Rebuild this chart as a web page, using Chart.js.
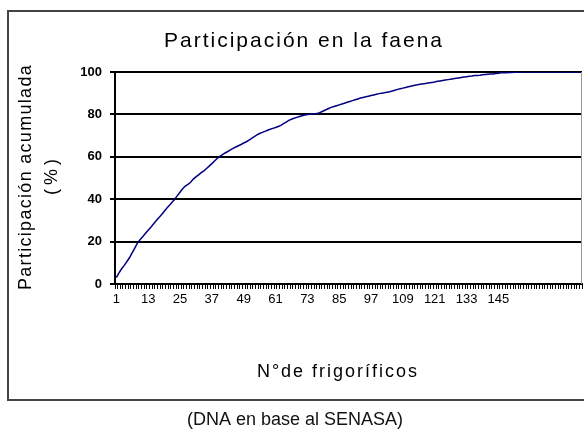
<!DOCTYPE html>
<html>
<head>
<meta charset="utf-8">
<script src="https://cdn.jsdelivr.net/npm/chart.js@4.4.1/dist/chart.umd.min.js"></script>
<style>
  html, body { margin: 0; padding: 0; background: #fff; }
  canvas { display: block; }
</style>
</head>
<body>
<canvas id="faena-chart" width="584" height="430" style="width:584px;height:430px"></canvas>
<script>
////
///////////////////// Data /////////////////////
////

const chartTitle = "Participación en la faena";
const yTitle = ["Participación acumulada", "(%)"];
const xTitle = "N°de frigoríficos";
const sourceNote = "(DNA en base al SENASA)";

// number of slaughterhouses on the category axis
const firmCount = 176;

// every 12th firm gets a label
const tickLabels = [1, 13, 25, 37, 49, 61, 73, 85, 97, 109, 121, 133, 145];
const yTicks = [0, 20, 40, 60, 80, 100];

// cumulative share (%), one value per firm
const cumulativeShare = [
     3.0,  5.2,  7.2,  8.8, 10.6, 12.5, 14.8, 17.0, 19.4, 21.0,
    22.4, 23.9, 25.4, 26.8, 28.3, 29.8, 31.2, 32.7, 34.2, 35.7,
    37.1, 38.6, 40.0, 41.7, 43.3, 44.9, 46.2, 47.0, 48.0, 49.5,
    50.5, 51.5, 52.5, 53.4, 54.5, 55.6, 56.8, 58.0, 59.2, 60.2,
    61.0, 61.8, 62.5, 63.3, 64.0, 64.6, 65.2, 65.8, 66.5, 67.1,
    67.9, 68.7, 69.5, 70.3, 71.0, 71.5, 72.0, 72.5, 73.0, 73.4,
    73.8, 74.3, 74.8, 75.6, 76.4, 77.2, 77.7, 78.2, 78.6, 79.0,
    79.4, 79.7, 80.0, 80.1, 80.2, 80.3, 80.5, 81.0, 81.6, 82.2,
    82.8, 83.3, 83.7, 84.1, 84.5, 84.9, 85.3, 85.7, 86.1, 86.5,
    86.9, 87.3, 87.7, 88.0, 88.3, 88.6, 88.9, 89.2, 89.5, 89.8,
    90.0, 90.2, 90.5, 90.7, 91.0, 91.4, 91.8, 92.1, 92.4, 92.7,
    93.0, 93.3, 93.6, 93.9, 94.1, 94.3, 94.5, 94.7, 94.9, 95.1,
    95.3, 95.6, 95.8, 96.0, 96.2, 96.4, 96.6, 96.8, 97.0, 97.2,
    97.4, 97.6, 97.8, 98.0, 98.1, 98.3, 98.4, 98.5, 98.7, 98.8,
    98.9, 99.0, 99.1, 99.3, 99.4, 99.6, 99.7, 99.7, 99.8, 99.8,
    99.9, 99.9, 100, 100, 100, 100, 100, 100, 100, 100,
    100, 100, 100, 100, 100, 100, 100, 100, 100, 100,
    100, 100, 100, 100, 100, 100
];

const firms = [];
for (let i = 1; i <= firmCount; i++) {
    firms.push(i);
}

////
///////////////////// Frame + texts /////////////////////
////

const FONT = '"Liberation Sans", Arial, sans-serif';

const framePlugin = {
    id: 'frame',
    beforeDraw(chart) {
        const ctx = chart.ctx;
        ctx.save();
        ctx.fillStyle = '#fff';
        ctx.fillRect(0, 0, chart.width, chart.height);
        ctx.restore();
    },
    afterDraw(chart) {
        const ctx = chart.ctx;
        const area = chart.chartArea;
        ctx.save();

        // outer border of the chart box (right side runs off the picture)
        ctx.strokeStyle = '#444';
        ctx.lineWidth = 2;
        ctx.strokeRect(8, 11, 600, 389);

        // grey right edge of the plot area
        ctx.strokeStyle = '#999';
        ctx.lineWidth = 1;
        ctx.beginPath();
        ctx.moveTo(Math.round(area.right) - 0.5, area.top);
        ctx.lineTo(Math.round(area.right) - 0.5, area.bottom);
        ctx.stroke();

        ctx.fillStyle = '#000';
        ctx.textAlign = 'center';
        ctx.textBaseline = 'middle';

        ctx.font = '21px ' + FONT;
        ctx.letterSpacing = '2px';
        ctx.fillText(chartTitle, 304, 41);

        ctx.font = '18px ' + FONT;
        ctx.letterSpacing = '2px';
        ctx.fillText(xTitle, 338, 372);

        // rotated y title, two lines
        ctx.save();
        ctx.translate(0, 177);
        ctx.rotate(-Math.PI / 2);
        ctx.font = '18px ' + FONT;
        ctx.letterSpacing = '1.3px';
        ctx.fillText(yTitle[0], 0, 26);
        ctx.letterSpacing = '4px';
        ctx.fillText(yTitle[1], 2, 52);
        ctx.restore();

        ctx.letterSpacing = '0px';
        ctx.font = '18px ' + FONT;
        ctx.fillStyle = '#111';
        ctx.fillText(sourceNote, 295, 420);

        ctx.restore();
    }
};

////
///////////////////// Chart /////////////////////
////

const faenaCanvas = document.getElementById("faena-chart");

const faenaData = {
    labels: firms,
    datasets: [{
        data: cumulativeShare,
        borderColor: '#000080',
        borderWidth: 1.5,
        pointRadius: 0,
        tension: 0,
        fill: false
    }]
};

const faenaOptions = {
    responsive: false,
    devicePixelRatio: 1,
    animation: false,
    layout: {
        padding: { top: 72, left: 0, right: 2, bottom: 0 }
    },
    scales: {
        x: {
            type: 'category',
            offset: true,
            afterFit: (scale) => { scale.height = 146; },
            grid: {
                display: true,
                drawOnChartArea: false,
                drawTicks: true,
                tickLength: 5,
                offset: true,
                color: '#000',
                lineWidth: 1
            },
            border: { display: true, color: '#000', width: 2 },
            ticks: {
                autoSkip: false,
                maxRotation: 0,
                minRotation: 0,
                padding: 3,
                color: '#000',
                font: { family: FONT, size: 13 },
                callback: function (value) {
                    const label = this.getLabelForValue(value);
                    return tickLabels.includes(label) ? String(label) : '';
                }
            }
        },
        y: {
            min: 0,
            max: 100,
            afterFit: (scale) => { scale.width = 115; },
            afterBuildTicks: (scale) => {
                scale.ticks = yTicks.map(v => ({ value: v }));
            },
            grid: {
                color: '#000',
                lineWidth: 2,
                tickLength: 5
            },
            border: { display: true, color: '#000', width: 2 },
            ticks: {
                padding: 8,
                color: '#000',
                font: { family: FONT, size: 13, weight: 'bold' }
            }
        }
    },
    plugins: {
        legend: { display: false },
        title: { display: false },
        tooltip: { enabled: false }
    }
};

let faenaChart = new Chart(faenaCanvas, {
    type: 'line',
    data: faenaData,
    options: faenaOptions,
    plugins: [framePlugin]
});
</script>
</body>
</html>
